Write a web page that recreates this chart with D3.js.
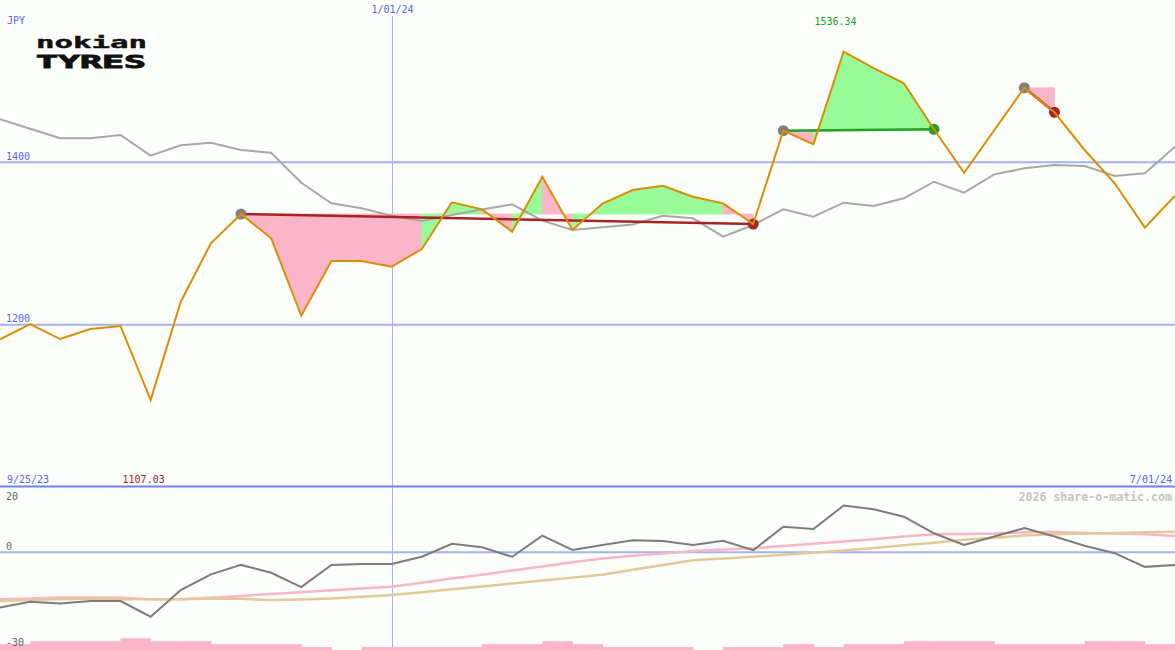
<!DOCTYPE html>
<html>
<head>
<meta charset="utf-8">
<script src="https://cdn.jsdelivr.net/npm/d3@7"></script>
<style>
  html, body { margin: 0; padding: 0; background: #fcfefc; }
  svg { display: block; }
  text { font-family: "DejaVu Sans Mono", monospace; }
</style>
</head>
<body>
<svg id="chart" width="1175" height="650"></svg>
<script>
// ---------- DATA ----------
const dates = ["2023-10-02","2023-10-09","2023-10-16","2023-10-23","2023-10-30","2023-11-06","2023-11-13","2023-11-20","2023-11-27","2023-12-04",
  "2023-12-11","2023-12-18","2023-12-25","2024-01-01","2024-01-08","2024-01-15","2024-01-22","2024-01-29","2024-02-05","2024-02-12",
  "2024-02-19","2024-02-26","2024-03-04","2024-03-11","2024-03-18","2024-03-25","2024-04-01","2024-04-08","2024-04-15","2024-04-22",
  "2024-04-29","2024-05-06","2024-05-13","2024-05-20","2024-05-27","2024-06-03","2024-06-10","2024-06-17","2024-06-24","2024-07-01"];

// share price (JPY)
const price = [1182.0,1200.8,1182.3,1194.7,1198.4,1107.03,1228.3,1300.2,1336.3,1306.4,
  1211.0,1278.4,1278.4,1271.4,1293.2,1350.8,1342.1,1314.5,1382.3,1316.6,
  1349.3,1365.9,1371.2,1357.7,1349.5,1324.0,1439.0,1422.2,1536.34,1516.2,
  1497.4,1440.7,1387.2,1439.5,1491.9,1461.6,1415.2,1374.2,1319.5,1358.9];

// comparison index (rebased, grey line)
const benchmark = [1453.0,1441.3,1429.6,1429.6,1433.7,1408.2,1421.0,1424.2,1415.2,1411.9,
  1374.9,1349.5,1343.4,1334.2,1327.7,1335.1,1341.9,1348.3,1328.1,1316.6,
  1320.0,1323.4,1334.2,1331.0,1308.4,1322.8,1342.1,1333.0,1350.3,1346.2,
  1355.7,1376.1,1362.6,1385.2,1392.6,1396.7,1395.5,1383.2,1386.5,1419.2];

// lower panel indicators
const momentum = [-17.0,-15.2,-15.7,-15.0,-15.0,-19.8,-11.6,-6.8,-3.9,-6.3,
  -10.7,-3.9,-3.6,-3.6,-1.4,2.6,1.5,-1.4,5.1,0.7,
  2.2,3.7,3.4,2.2,3.5,0.6,7.8,7.1,14.3,13.2,
  10.9,5.8,2.2,4.8,7.4,4.8,2.0,-0.3,-4.5,-3.9];
const avgFast = [-14.4,-14.2,-13.9,-13.9,-14.0,-14.4,-14.4,-14.0,-13.4,-12.8,
  -12.3,-11.7,-11.1,-10.6,-9.4,-8.1,-6.9,-5.6,-4.4,-3.1,
  -1.9,-1.1,-0.4,0.4,0.8,1.2,1.9,2.6,3.3,4.0,
  4.8,5.5,5.6,5.7,6.1,6.2,5.9,5.7,5.5,5.0];
const avgSlow = [-15.0,-14.7,-14.4,-14.2,-14.4,-14.4,-14.4,-14.2,-14.3,-14.7,
  -14.5,-14.2,-13.7,-13.1,-12.3,-11.4,-10.5,-9.6,-8.7,-7.8,
  -6.9,-5.4,-3.9,-2.5,-1.9,-1.4,-0.8,-0.2,0.5,1.3,
  2.1,2.9,3.8,4.4,5.1,5.5,5.7,5.9,6.1,6.3];
// volume level per week (bar from one week to the next)
const volume = [2,3,3,3,4,3,3,2,2,2,1,0,1,1,1,1,2,2,3,2,1,1,1,0,1,1,2,1,2,2,3,3,3,2,2,2,3,3,2];

// trades (entry / exit dates)
const tradeEntry = ["2023-11-27","2024-04-01","2024-05-27"];
const tradeExit  = ["2024-03-25","2024-05-06","2024-06-03"];

const priceTicks = [1400, 1200];
const lowerTicks = [20, 0, -30];
const monthMarker = "2024-01-01";
const labels = { currency: "JPY", monthMarker: "1/01/24", start: "9/25/23", end: "7/01/24",
  maxLabel: "1536.34", minLabel: "1107.03", credit: "2026 share-o-matic.com",
  logoTop: "nokian", logoBottom: "TYRES" };

// ---------- SCALES ----------
const W = 1175, H = 650;
const parse = d3.utcParse("%Y-%m-%d");
const dts = dates.map(parse);
const x = d3.scaleUtc().domain([parse("2023-10-02"), parse("2024-07-01")]).range([0, W]);
const y = d3.scaleLinear().domain([1000, 1600]).range([487, 0]);
const y2 = d3.scaleLinear().domain([-30, 20]).range([650, 487]);
const yv = d3.scaleLinear().domain([0, 4]).range([650, 638.3]);

const svg = d3.select("#chart");
svg.append("rect").attr("width", W).attr("height", H).attr("fill", "#fcfefc");

const blue = "#5566ee", gridC = "#a4b2f4";

// vertical month line
const xm = Math.round(x(parse(monthMarker))) + 0.5;
svg.append("line").attr("x1", xm).attr("x2", xm).attr("y1", 16).attr("y2", H)
  .attr("stroke", gridC).attr("stroke-width", 1);

// horizontal price grid
svg.selectAll(".pg").data(priceTicks).join("line")
  .attr("x1", 0).attr("x2", W).attr("y1", d => y(d)).attr("y2", d => y(d))
  .attr("stroke", gridC).attr("stroke-width", 2);
svg.selectAll(".pgl").data(priceTicks).join("text")
  .attr("x", 6).attr("y", d => y(d) - 2.5).attr("font-size", 10).attr("fill", blue).text(d => d);

// lower panel zero line
svg.append("line").attr("x1", 0).attr("x2", W).attr("y1", y2(0)).attr("y2", y2(0))
  .attr("stroke", gridC).attr("stroke-width", 2);

// separator
svg.append("line").attr("x1", 0).attr("x2", W).attr("y1", 486.5).attr("y2", 486.5)
  .attr("stroke", "#7282ea").attr("stroke-width", 2);

// ---------- TRADE FILLS ----------
const idx = s => dates.indexOf(s);
const trades = tradeEntry.map((e, k) => ({ a: idx(e), b: idx(tradeExit[k]) }));
const pink = "#fbb5c9", green = "#98fb98";
const fills = [];
trades.forEach(t => {
  const L = price[t.a];
  for (let k = t.a; k < t.b; k++) {
    fills.push({ k, L, up: price[k + 1] > L });
  }
});
svg.selectAll(".fill").data(fills).join("path")
  .attr("d", f => {
    const x0 = x(dts[f.k]), x1 = x(dts[f.k + 1]);
    return `M${x0},${y(price[f.k])}L${x1},${y(price[f.k + 1])}L${x1},${y(f.L)}L${x0},${y(f.L)}Z`;
  })
  .attr("fill", f => f.up ? green : pink)
  .attr("stroke", f => f.up ? green : pink).attr("stroke-width", 0.8).attr("stroke-linejoin", "round");

// benchmark line
const line = d3.line().x((d, i) => x(dts[i])).y(d => y(d));
svg.append("path").attr("d", line(benchmark)).attr("fill", "none")
  .attr("stroke", "#a8a8a8").attr("stroke-width", 2);

// trade lines
const win = t => price[t.b] > price[t.a];
svg.selectAll(".tl").data(trades).join("line")
  .attr("x1", t => x(dts[t.a])).attr("y1", t => y(price[t.a]))
  .attr("x2", t => x(dts[t.b])).attr("y2", t => y(price[t.b]))
  .attr("stroke", t => win(t) ? "#22a022" : "#a82424").attr("stroke-width", 2.5);

// markers
svg.selectAll(".me").data(trades).join("circle")
  .attr("cx", t => x(dts[t.a])).attr("cy", t => y(price[t.a])).attr("r", 5.5).attr("fill", "#808080");
svg.selectAll(".mx").data(trades).join("circle")
  .attr("cx", t => x(dts[t.b])).attr("cy", t => y(price[t.b])).attr("r", 5.5)
  .attr("fill", t => win(t) ? "#22a022" : "#a82424");

// price line
svg.append("path").attr("d", line(price)).attr("fill", "none")
  .attr("stroke", "#dc8e02").attr("stroke-width", 2).attr("stroke-linejoin", "miter");

// ---------- LOWER PANEL ----------
svg.selectAll(".vb").data(volume).join("rect")
  .attr("x", (d, i) => x(dts[i])).attr("width", (d, i) => x(dts[i + 1]) - x(dts[i]) + 0.5)
  .attr("y", d => yv(d)).attr("height", d => 650 - yv(d)).attr("fill", "#fbb5c9");

const line2 = d3.line().x((d, i) => x(dts[i])).y(d => y2(d));
svg.append("path").attr("d", line2(avgFast)).attr("fill", "none").attr("stroke", "#fbb5c9").attr("stroke-width", 2.5);
svg.append("path").attr("d", line2(avgSlow)).attr("fill", "none").attr("stroke", "#e2ca98").attr("stroke-width", 2.5);
svg.append("path").attr("d", line2(momentum)).attr("fill", "none").attr("stroke", "#7c7c7c").attr("stroke-width", 2);

svg.selectAll(".lt").data(lowerTicks).join("text")
  .attr("x", 6).attr("font-size", 10).attr("fill", "#666")
  .attr("y", d => d === lowerTicks[0] ? 500 : (d === lowerTicks[2] ? 645.5 : y2(d) - 2.5))
  .text(d => d);

// ---------- TEXT ----------
svg.append("text").attr("x", 7).attr("y", 24).attr("font-size", 10).attr("fill", blue).text(labels.currency);
svg.append("text").attr("x", xm).attr("y", 13).attr("text-anchor", "middle").attr("font-size", 10).attr("fill", blue).text(labels.monthMarker);
const iMax = price.indexOf(d3.max(price)), iMin = price.indexOf(d3.min(price));
svg.append("text").attr("x", x(dts[iMax]) - 8).attr("y", 25).attr("text-anchor", "middle").attr("font-size", 10).attr("fill", "#22992a").text(labels.maxLabel);
svg.append("text").attr("x", x(dts[iMin]) - 7).attr("y", 482.5).attr("text-anchor", "middle").attr("font-size", 10).attr("fill", "#a82424").text(labels.minLabel);
svg.append("text").attr("x", 7).attr("y", 482.5).attr("font-size", 10).attr("fill", blue).text(labels.start);
svg.append("text").attr("x", 1172).attr("y", 482.5).attr("text-anchor", "end").attr("font-size", 10).attr("fill", blue).text(labels.end);
svg.append("text").attr("x", 1172).attr("y", 500.5).attr("text-anchor", "end").attr("font-size", 11.6)
  .attr("font-weight", "bold").attr("fill", "#c4c4c4").text(labels.credit);

// logo
svg.append("text").attr("x", 36).attr("y", 47.5).attr("font-family", "'DejaVu Sans', sans-serif")
  .attr("font-weight", "bold").attr("font-size", 15).attr("textLength", 111).attr("lengthAdjust", "spacingAndGlyphs")
  .attr("fill", "#111").attr("stroke", "#111").attr("stroke-width", 0.4).text(labels.logoTop);
svg.append("text").attr("x", 36).attr("y", 67.5).attr("font-family", "'DejaVu Sans', sans-serif")
  .attr("font-weight", "bold").attr("font-size", 17.5).attr("textLength", 110).attr("lengthAdjust", "spacingAndGlyphs")
  .attr("fill", "#111").attr("stroke", "#111").attr("stroke-width", 0.9).text(labels.logoBottom);
</script>
</body>
</html>
